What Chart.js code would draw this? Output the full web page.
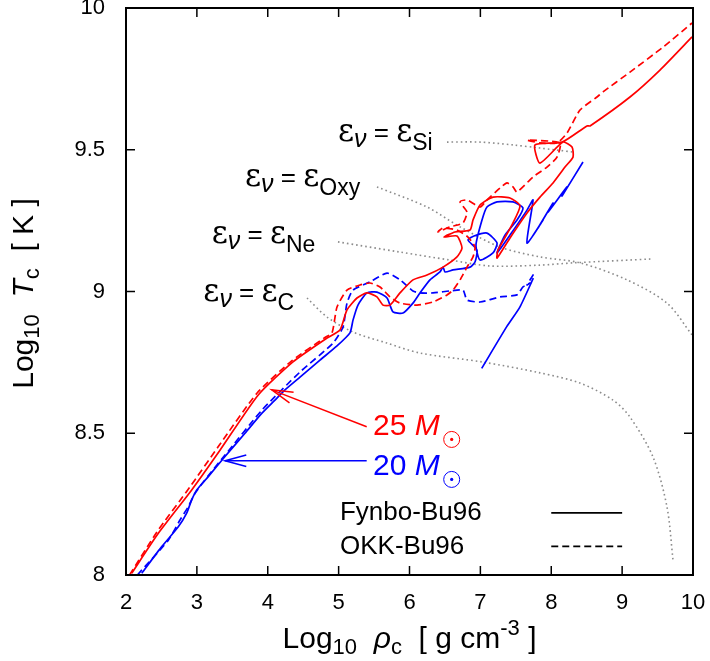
<!DOCTYPE html>
<html>
<head>
<meta charset="utf-8">
<script src="https://cdn.jsdelivr.net/npm/chart.js@4.4.1/dist/chart.umd.min.js"></script>
<style>
  html, body { margin: 0; padding: 0; background: #fff; }
  #wrap { width: 710px; height: 661px; }
</style>
</head>
<body>
<div id="wrap"><canvas id="tcRhoChart" width="710" height="661"></canvas></div>
<script>
// log10 rho_c (x) vs log10 T_c (y) tracks
var xTicks = [2, 3, 4, 5, 6, 7, 8, 9, 10];
var yTicks = [8, 8.5, 9, 9.5, 10];

// 25 Msun, Fynbo-Bu96 (solid red)
var fynbo25 = [
  [2.080, 8.006], [2.456, 8.147], [2.927, 8.300], [3.326, 8.440], [3.866, 8.635],
  [4.356, 8.752], [4.836, 8.836], [5.019, 8.864], [5.118, 8.935], [5.259, 8.977],
  [5.400, 8.995], [5.541, 8.981], [5.626, 8.952], [5.725, 8.952], [5.866, 8.995],
  [6.049, 9.041], [6.247, 9.058], [6.473, 9.086], [6.670, 9.122], [6.741, 9.153],
  [6.670, 9.196], [6.487, 9.192], [6.642, 9.210], [6.854, 9.217], [6.896, 9.252],
  [6.995, 9.305], [7.178, 9.333], [7.418, 9.330], [7.559, 9.302], [7.446, 9.235],
  [7.249, 9.146], [7.235, 9.118], [7.418, 9.189], [7.658, 9.277], [7.841, 9.333],
  [8.025, 9.383], [8.194, 9.439], [8.307, 9.474], [8.293, 9.510], [8.166, 9.527],
  [7.841, 9.453], [7.771, 9.517], [8.152, 9.527], [8.504, 9.584], [8.547, 9.584],
  [9.111, 9.686], [9.534, 9.781], [9.986, 9.898]
];

// 25 Msun, OKK-Bu96 (dashed red)
var okk25 = [
  [2.050, 8.000], [2.437, 8.152], [2.900, 8.310], [3.300, 8.452], [3.850, 8.642],
  [4.342, 8.756], [4.808, 8.838], [4.907, 8.854], [4.977, 8.945], [5.118, 9.005],
  [5.302, 9.023], [5.443, 9.030], [5.584, 9.016], [5.725, 8.981], [5.866, 8.959],
  [6.106, 8.952], [6.332, 8.963], [6.529, 8.988], [6.614, 9.005], [6.713, 9.041],
  [6.811, 9.086], [6.896, 9.122], [6.924, 9.157], [6.825, 9.192], [6.670, 9.217],
  [6.473, 9.224], [6.402, 9.210], [6.571, 9.228], [6.755, 9.242], [6.811, 9.280],
  [6.713, 9.316], [6.811, 9.323], [6.995, 9.298], [7.093, 9.323], [7.277, 9.365],
  [7.376, 9.383], [7.460, 9.369], [7.517, 9.351], [7.743, 9.404], [7.940, 9.439],
  [8.081, 9.474], [8.123, 9.524], [7.658, 9.534], [7.841, 9.524], [8.081, 9.524],
  [8.222, 9.559], [8.406, 9.640], [8.645, 9.686], [8.730, 9.704], [9.111, 9.774],
  [9.577, 9.862], [9.986, 9.947]
];

// 20 Msun, Fynbo-Bu96 (solid blue)
var fynbo20 = [
  [2.222, 8.006], [2.504, 8.100], [2.738, 8.170], [2.856, 8.218], [2.927, 8.265],
  [2.998, 8.300], [3.161, 8.347], [3.397, 8.418], [3.679, 8.500], [3.915, 8.570],
  [4.102, 8.617], [4.243, 8.653], [4.455, 8.698], [4.737, 8.758], [4.977, 8.808],
  [5.160, 8.854], [5.203, 8.899], [5.273, 8.952], [5.400, 8.995], [5.541, 8.998],
  [5.683, 8.977], [5.767, 8.928], [5.908, 8.924], [6.049, 8.959], [6.148, 8.995],
  [6.289, 9.041], [6.430, 9.069], [6.473, 9.086], [6.501, 9.069], [6.614, 9.076],
  [6.854, 9.086], [6.924, 9.104], [6.952, 9.146], [6.825, 9.182], [6.910, 9.196],
  [7.093, 9.206], [7.235, 9.171], [7.178, 9.136], [6.995, 9.111], [6.938, 9.164],
  [7.023, 9.252], [7.093, 9.298], [7.235, 9.316], [7.460, 9.316], [7.601, 9.295],
  [7.517, 9.252], [7.347, 9.199], [7.235, 9.136], [7.418, 9.199], [7.658, 9.287],
  [7.743, 9.323], [7.658, 9.171], [7.884, 9.252], [7.813, 9.224], [8.025, 9.312],
  [7.954, 9.280], [8.222, 9.369], [8.152, 9.337], [8.448, 9.457]
];
var fynbo20Tail = [[7.019, 8.729], [7.372, 8.876], [7.559, 8.946], [7.747, 9.047]];

// 20 Msun, OKK-Bu96 (dashed blue)
var okk20 = [
  [2.160, 8.000], [2.597, 8.123], [2.762, 8.194], [2.879, 8.241], [2.974, 8.288],
  [3.157, 8.349], [3.397, 8.423], [3.919, 8.582], [4.455, 8.716], [4.921, 8.818],
  [5.062, 8.875], [5.118, 8.959], [5.203, 9.005], [5.443, 9.034], [5.683, 9.065],
  [5.866, 9.041], [6.049, 9.002], [6.148, 8.995], [6.332, 8.995], [6.571, 9.002],
  [6.755, 9.005], [6.811, 8.970], [6.995, 8.963], [7.277, 8.981], [7.517, 8.988],
  [7.601, 9.016], [7.700, 9.030], [7.658, 9.023], [7.771, 9.069]
];

// eps_nu = eps_X boundaries (dotted grey)
var epsC = [
  [4.554, 8.977], [4.836, 8.910], [5.203, 8.857], [5.683, 8.818], [6.148, 8.783],
  [7.037, 8.751], [7.841, 8.713], [8.406, 8.677], [8.871, 8.617], [9.111, 8.557],
  [9.436, 8.416], [9.633, 8.240], [9.718, 8.053]
];
var epsNe = [
  [4.991, 9.175], [5.866, 9.139], [6.571, 9.111], [7.136, 9.090], [7.841, 9.093],
  [8.307, 9.101], [9.436, 9.115]
];
var epsOxy = [
  [5.541, 9.369], [6.247, 9.298], [6.713, 9.228], [7.277, 9.157], [7.841, 9.122],
  [8.406, 9.101], [9.069, 9.041], [9.633, 8.959], [9.986, 8.847]
];
var epsSi = [[6.529, 9.527], [6.995, 9.527], [7.460, 9.517], [7.841, 9.506], [8.307, 9.492]];

var epsNames = ['Si', 'Oxy', 'Ne', 'C'];

// annotation anchors (data units)
var epsLabelPos = { Si: [4.991, 9.531], Oxy: [3.679, 9.372], Ne: [3.209, 9.171], C: [3.091, 8.968] };
var massLabelPos = { m25: [5.485, 8.494], m20: [5.485, 8.353] };
var arrowPos = {
  m25: [[5.396, 8.523], [4.056, 8.653]],
  m20: [[5.396, 8.403], [3.397, 8.403]]
};
var legendPos = { textX: 5.019, lineX: [8.0, 9.0], y: [8.219, 8.101] };

var FONT = '"Liberation Sans", Arial, Helvetica, sans-serif';
var RED = '#ff0000', BLUE = '#0000ff', GREY = '#8c8c8c';

function pts(a) {
  return a.map(function (p) { return { x: p[0], y: p[1] }; });
}

function line(ctx, x0, y0, x1, y1) {
  ctx.beginPath(); ctx.moveTo(x0, y0); ctx.lineTo(x1, y1); ctx.stroke();
}

function richText(ctx, x, y, parts, align) {
  var widths = [], total = 0;
  parts.forEach(function (p) {
    ctx.font = (p.it ? 'italic ' : '') + p.s + 'px ' + (p.f || FONT);
    var w = ctx.measureText(p.t).width;
    widths.push(w); total += w;
  });
  var cx = align === 'center' ? x - total / 2 : x;
  parts.forEach(function (p, i) {
    ctx.font = (p.it ? 'italic ' : '') + p.s + 'px ' + (p.f || FONT);
    ctx.fillText(p.t, cx, y + (p.dy || 0));
    cx += widths[i];
  });
  return cx;
}

function arrow(ctx, x0, y0, x1, y1, color) {
  ctx.strokeStyle = color;
  ctx.lineWidth = 1.5;
  line(ctx, x0, y0, x1, y1);
  var a = Math.atan2(y0 - y1, x0 - x1), len = 22, sp = 0.26;
  ctx.beginPath();
  ctx.moveTo(x1 + len * Math.cos(a + sp), y1 + len * Math.sin(a + sp));
  ctx.lineTo(x1, y1);
  ctx.lineTo(x1 + len * Math.cos(a - sp), y1 + len * Math.sin(a - sp));
  ctx.stroke();
}

var decorations = {
  id: 'decorations',
  afterDatasetsDraw: function (chart) {
    var ctx = chart.ctx, ca = chart.chartArea;
    var xs = chart.scales.x, ys = chart.scales.y;
    var X = function (v) { return xs.getPixelForValue(v); };
    var Y = function (v) { return ys.getPixelForValue(v); };
    ctx.save();

    // frame + inward ticks on all sides
    ctx.strokeStyle = '#000';
    ctx.lineWidth = 2;
    ctx.strokeRect(ca.left, ca.top, ca.right - ca.left, ca.bottom - ca.top);
    ctx.lineWidth = 1.5;
    xTicks.forEach(function (v) {
      var px = X(v);
      line(ctx, px, ca.bottom, px, ca.bottom - 9);
      line(ctx, px, ca.top, px, ca.top + 9);
    });
    yTicks.forEach(function (v) {
      var py = Y(v);
      line(ctx, ca.left, py, ca.left + 9, py);
      line(ctx, ca.right, py, ca.right - 9, py);
    });

    // axis titles
    ctx.fillStyle = '#000';
    ctx.textBaseline = 'alphabetic';
    richText(ctx, (ca.left + ca.right) / 2, 648, [
      { t: 'Log', s: 30 }, { t: '10', s: 22, dy: 6 }, { t: '  ', s: 30 },
      { t: 'ρ', s: 30, it: true }, { t: 'c', s: 22, dy: 6 },
      { t: '  [ g cm', s: 30 }, { t: '-3', s: 22, dy: -13 }, { t: ' ]', s: 30 }
    ], 'center');
    ctx.save();
    ctx.translate(33, (ca.top + ca.bottom) / 2 + 2);
    ctx.rotate(-Math.PI / 2);
    richText(ctx, 0, 0, [
      { t: 'Log', s: 30 }, { t: '10', s: 22, dy: 6 }, { t: '  ', s: 30 },
      { t: 'T', s: 30, it: true }, { t: 'c', s: 22, dy: 6 }, { t: '  [ K ]', s: 30 }
    ], 'center');
    ctx.restore();

    // eps_nu labels
    epsNames.forEach(function (n) {
      var p = epsLabelPos[n];
      richText(ctx, X(p[0]), Y(p[1]), [
        { t: 'ε', s: 31, f: '"DejaVu Serif", serif' },
        { t: 'ν', s: 25, it: true, dy: 6 },
        { t: ' = ', s: 26 },
        { t: 'ε', s: 31, f: '"DejaVu Serif", serif' },
        { t: n, s: 23, dy: 9 }
      ], 'left');
    });

    // mass labels with arrows
    [['m25', '25 ', RED], ['m20', '20 ', BLUE]].forEach(function (m) {
      var p = massLabelPos[m[0]], a = arrowPos[m[0]];
      arrow(ctx, X(a[0][0]), Y(a[0][1]), X(a[1][0]), Y(a[1][1]), m[2]);
      ctx.fillStyle = m[2];
      var bx = X(p[0]), by = Y(p[1]);
      var end = richText(ctx, bx, by, [{ t: m[1], s: 30 }, { t: 'M', s: 30, it: true }], 'left');
      ctx.strokeStyle = m[2];
      ctx.lineWidth = 1;
      ctx.beginPath(); ctx.arc(end + 12, by + 4.5, 8, 0, Math.PI * 2); ctx.stroke();
      ctx.beginPath(); ctx.arc(end + 12, by + 4.5, 1.6, 0, Math.PI * 2); ctx.fill();
    });

    // legend
    ctx.fillStyle = '#000';
    ctx.strokeStyle = '#000';
    ctx.textBaseline = 'middle';
    ctx.font = '26px ' + FONT;
    ctx.fillText('Fynbo-Bu96', X(legendPos.textX), Y(legendPos.y[0]));
    ctx.fillText('OKK-Bu96', X(legendPos.textX), Y(legendPos.y[1]));
    ctx.lineWidth = 1.6;
    line(ctx, X(legendPos.lineX[0]), Y(legendPos.y[0]), X(legendPos.lineX[1]), Y(legendPos.y[0]));
    ctx.setLineDash([7, 4]);
    line(ctx, X(legendPos.lineX[0]), Y(legendPos.y[1]), X(legendPos.lineX[1]), Y(legendPos.y[1]));
    ctx.setLineDash([]);

    ctx.restore();
  }
};

function track(data, color, dashed) {
  return {
    data: pts(data),
    borderColor: color,
    borderWidth: 1.7,
    borderDash: dashed ? [7, 4] : [],
    showLine: true,
    pointRadius: 0,
    tension: 0.2
  };
}

function dotted(data) {
  return {
    data: pts(data),
    borderColor: GREY,
    borderWidth: 1.6,
    borderDash: [1.6, 3],
    showLine: true,
    pointRadius: 0,
    tension: 0.3
  };
}

document.addEventListener('DOMContentLoaded', function () {
  var ctx = document.getElementById('tcRhoChart').getContext('2d');
  new Chart(ctx, {
    type: 'scatter',
    data: {
      datasets: [
        track(fynbo25, RED, false),
        track(okk25, RED, true),
        track(fynbo20, BLUE, false),
        track(fynbo20Tail, BLUE, false),
        track(okk20, BLUE, true),
        dotted(epsC), dotted(epsNe), dotted(epsOxy), dotted(epsSi)
      ]
    },
    options: {
      responsive: false,
      animation: false,
      devicePixelRatio: 1,
      layout: { padding: { left: 0, right: 17, top: 8, bottom: 0 } },
      plugins: { legend: { display: false }, tooltip: { enabled: false } },
      scales: {
        x: {
          type: 'linear', min: 2, max: 10,
          afterBuildTicks: function (s) { s.ticks = xTicks.map(function (v) { return { value: v }; }); },
          afterFit: function (s) { s.height = 86; s.paddingLeft = 0; s.paddingRight = 0; },
          grid: { display: false },
          border: { display: false },
          ticks: { color: '#000', padding: 7, font: { family: FONT, size: 22 }, maxRotation: 0,
                   callback: function (v) { return String(v); } }
        },
        y: {
          type: 'linear', min: 8, max: 10,
          afterBuildTicks: function (s) { s.ticks = yTicks.map(function (v) { return { value: v }; }); },
          afterFit: function (s) { s.width = 126; s.paddingTop = 0; s.paddingBottom = 0; },
          grid: { display: false },
          border: { display: false },
          ticks: { color: '#000', padding: 13, font: { family: FONT, size: 22 },
                   callback: function (v) { return String(v); } }
        }
      }
    },
    plugins: [decorations]
  });
});
</script>
</body>
</html>
